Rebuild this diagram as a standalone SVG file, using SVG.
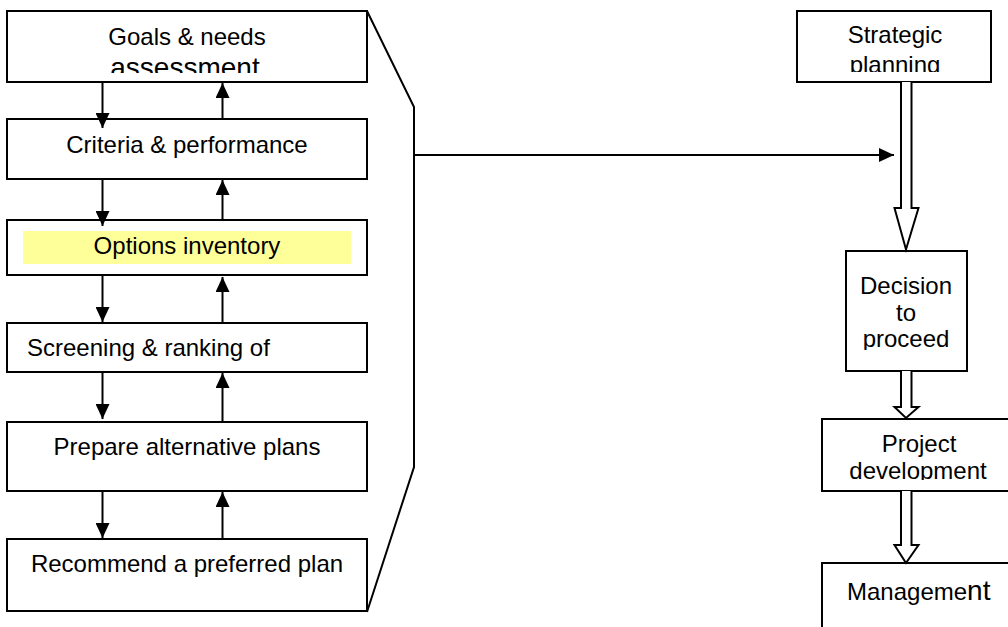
<svg xmlns="http://www.w3.org/2000/svg" width="1008" height="627" viewBox="0 0 1008 627">
  <defs>
    <style>
      .box { fill: #ffffff; stroke: #000000; stroke-width: 2; }
      .lbl { font-family: "Liberation Sans", Arial, sans-serif; font-size: 24px; fill: #000000; }
      .big { font-size: 28px; }
      .mid { text-anchor: middle; }
      .link { fill: none; stroke: #000000; stroke-width: 2; }
      .hollow { fill: #ffffff; stroke: #000000; stroke-width: 2; stroke-linejoin: miter; }
    </style>
    <marker id="head" viewBox="0 0 15 14" refX="15" refY="7" markerWidth="15" markerHeight="14" markerUnits="userSpaceOnUse" orient="auto">
      <path d="M0,0 L15,7 L0,14 Z" fill="#000000"/>
    </marker>
    <clipPath id="clipGoals"><rect x="0" y="0" width="400" height="73"/></clipPath>
    <clipPath id="clipStrategic"><rect x="790" y="0" width="210" height="72"/></clipPath>
    <clipPath id="clipDecision"><rect x="840" y="250" width="140" height="100"/></clipPath>
    <clipPath id="clipProject"><rect x="815" y="415" width="200" height="65"/></clipPath>
  </defs>

  <!-- planning steps, left column -->
  <g id="goals">
    <rect class="box" x="7" y="11" width="360" height="71"/>
    <g clip-path="url(#clipGoals)">
      <text class="lbl mid" x="187" y="45">Goals &amp; needs</text>
      <text class="lbl big mid" x="185" y="77">assessment</text>
    </g>
  </g>
  <g id="criteria">
    <rect class="box" x="7" y="119" width="360" height="60"/>
    <text class="lbl mid" x="187" y="153">Criteria &amp; performance</text>
  </g>
  <g id="options">
    <rect class="box" x="7" y="220" width="360" height="55"/>
    <rect x="23" y="231" width="328" height="33" fill="#ffff99"/>
    <text class="lbl mid" x="187" y="254">Options inventory</text>
  </g>
  <g id="screening">
    <rect class="box" x="7" y="323" width="360" height="49"/>
    <text class="lbl" x="27" y="356">Screening &amp; ranking of</text>
  </g>
  <g id="alternatives">
    <rect class="box" x="7" y="422" width="360" height="69"/>
    <text class="lbl mid" x="187" y="455">Prepare alternative plans</text>
  </g>
  <g id="recommend">
    <rect class="box" x="7" y="539" width="360" height="72"/>
    <text class="lbl mid" x="187" y="572">Recommend a preferred plan</text>
  </g>

  <!-- project stages, right column -->
  <g id="strategic">
    <rect class="box" x="797" y="11" width="194" height="71"/>
    <g clip-path="url(#clipStrategic)">
      <text class="lbl mid" x="895" y="43">Strategic</text>
      <text class="lbl mid" x="895" y="73">planning</text>
    </g>
  </g>
  <g id="decision">
    <rect class="box" x="846" y="251" width="121" height="120"/>
    <g clip-path="url(#clipDecision)">
      <text class="lbl mid" x="906" y="294">Decision</text>
      <text class="lbl mid" x="906" y="321">to</text>
      <text class="lbl mid" x="906" y="347">proceed</text>
    </g>
  </g>
  <g id="project">
    <rect class="box" x="822" y="419" width="193" height="72"/>
    <g clip-path="url(#clipProject)">
      <text class="lbl mid" x="919" y="452">Project</text>
      <text class="lbl mid" x="918" y="479">development</text>
    </g>
  </g>
  <g id="management">
    <rect class="box" x="822" y="563" width="193" height="80"/>
    <text class="lbl" x="847" y="600">Manageme<tspan class="big">nt</tspan></text>
  </g>

  <!-- connectors -->
  <g id="connectors">
    <!-- downward flow -->
    <line class="link" x1="102.5" y1="82" x2="102.5" y2="128" marker-end="url(#head)"/>
    <line class="link" x1="102.5" y1="179" x2="102.5" y2="226" marker-end="url(#head)"/>
    <line class="link" x1="102.5" y1="275" x2="102.5" y2="322" marker-end="url(#head)"/>
    <line class="link" x1="102.5" y1="372" x2="102.5" y2="419" marker-end="url(#head)"/>
    <line class="link" x1="102.5" y1="491" x2="102.5" y2="538" marker-end="url(#head)"/>
    <!-- feedback flow -->
    <line class="link" x1="222.5" y1="119" x2="222.5" y2="83" marker-end="url(#head)"/>
    <line class="link" x1="222.5" y1="220" x2="222.5" y2="180" marker-end="url(#head)"/>
    <line class="link" x1="222.5" y1="323" x2="222.5" y2="277" marker-end="url(#head)"/>
    <line class="link" x1="222.5" y1="422" x2="222.5" y2="373" marker-end="url(#head)"/>
    <line class="link" x1="222.5" y1="539" x2="222.5" y2="492" marker-end="url(#head)"/>
    <!-- bracket around the planning steps -->
    <polyline class="link" points="367,11 414,107 414,467 367,612"/>
    <line class="link" x1="414" y1="155" x2="894" y2="155" marker-end="url(#head)"/>
    <!-- hollow stage arrows -->
    <path class="hollow" d="M901,82 V208 H894.5 L906,249.5 L918.5,208 H911.5 V82"/>
    <path class="hollow" d="M901,371 V407 H894.5 L906,418 L918.5,407 H911.5 V371"/>
    <path class="hollow" d="M901,491 V545 H894.5 L906,563 L918.5,545 H911.5 V491"/>
  </g>
</svg>
